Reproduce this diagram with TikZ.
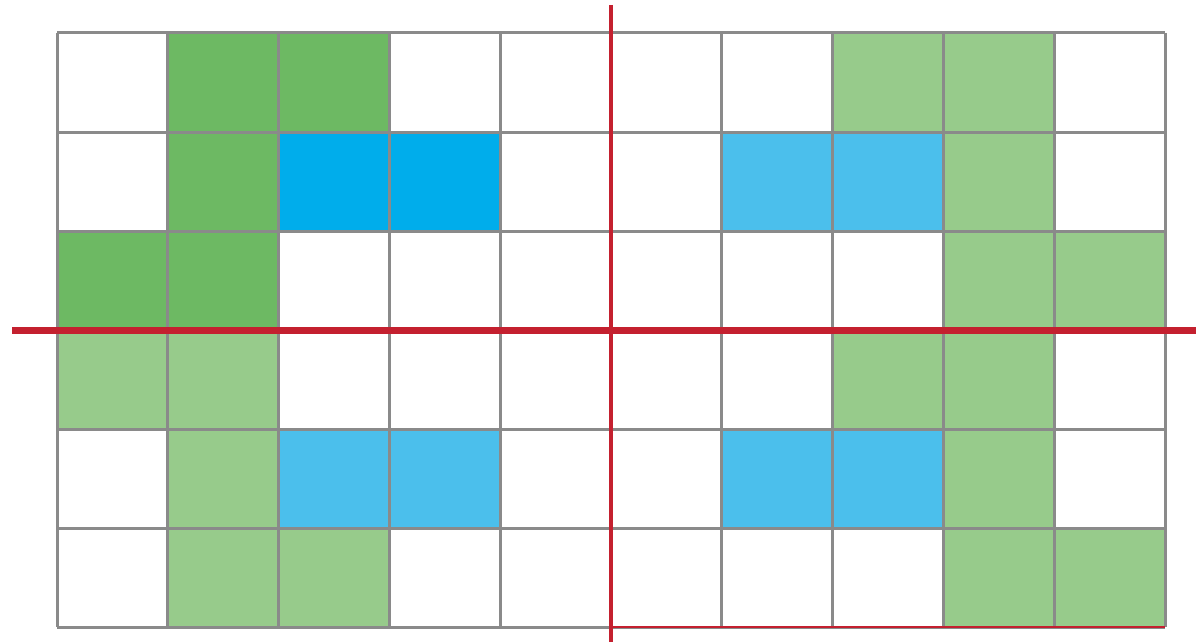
\documentclass[tikz,border=0pt]{standalone}
\definecolor{dgreen}{HTML}{6DB963}
\definecolor{lgreen}{HTML}{97CB8B}
\definecolor{dblue}{HTML}{00ADEB}
\definecolor{lblue}{HTML}{4BBFEC}
\definecolor{gridgray}{HTML}{8A8A8A}
\definecolor{axisred}{HTML}{C4202F}
\tikzset{
  gridline/.style={draw=gridgray,line width=3pt},
  axisline/.style={draw=axisred},
}
\begin{document}
\begin{tikzpicture}[x=1pt,y=-1pt]
\useasboundingbox (0,0) rectangle (1196,642);
\fill[white] (0,0) rectangle (1196,642);
\def\xo{57}\def\yo{33}\def\cw{110.8}\def\ch{99}
% cells
\foreach \c/\r in {1/0,2/0,1/1,0/2,1/2}
  \fill[dgreen] ({\xo+\c*\cw},{\yo+\r*\ch}) rectangle ++(\cw,\ch);
\foreach \c/\r in {7/0,8/0,8/1,8/2,9/2,0/3,1/3,7/3,8/3,1/4,8/4,1/5,2/5,8/5,9/5}
  \fill[lgreen] ({\xo+\c*\cw},{\yo+\r*\ch}) rectangle ++(\cw,\ch);
\foreach \c/\r in {2/1,3/1}
  \fill[dblue] ({\xo+\c*\cw},{\yo+\r*\ch}) rectangle ++(\cw,\ch);
\foreach \c/\r in {6/1,7/1,2/4,3/4,6/4,7/4}
  \fill[lblue] ({\xo+\c*\cw},{\yo+\r*\ch}) rectangle ++(\cw,\ch);
% grid
\foreach \c in {0,...,10}
  \draw[gridline] ({\xo+\c*\cw},\yo) -- ({\xo+\c*\cw},{\yo+6*\ch});
\foreach \r in {0,...,6}
  \draw[gridline] (\xo,{\yo+\r*\ch}) -- ({\xo+10*\cw},{\yo+\r*\ch});
% thin red line along the bottom of the lower right quadrant
\coordinate (bl) at ({\xo+5*\cw},{\yo+6*\ch});
\coordinate (br) at ({\xo+10*\cw},{\yo+6*\ch});
\draw[axisline,line width=1.5pt] (bl) -- (br);
% axes
\coordinate (vt) at ({\xo+5*\cw},5);
\coordinate (vb) at ({\xo+5*\cw},642);
\coordinate (hl) at (12,{\yo+3*\ch});
\coordinate (hr) at (1196,{\yo+3*\ch});
\draw[axisline,line width=4pt] (vt) -- (vb);
\draw[axisline,line width=7pt] (hl) -- (hr);
\end{tikzpicture}
\end{document}
